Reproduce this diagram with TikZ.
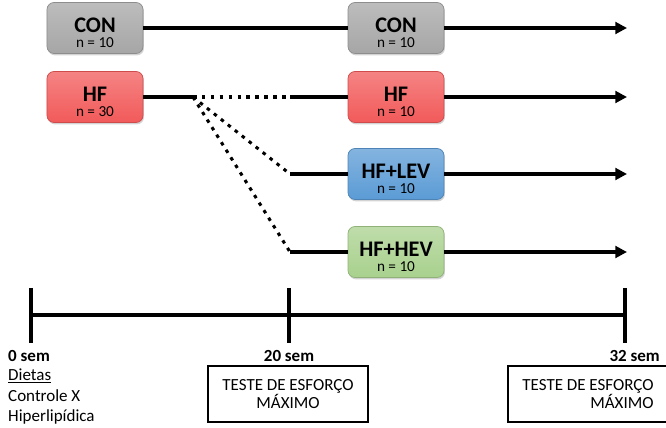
\documentclass[tikz,border=0pt]{standalone}
\usepackage{fontspec}
\setmainfont{Carlito}
\usepackage{tikz}
\usetikzlibrary{arrows.meta,shadows}

\definecolor{conGray}{HTML}{A6A6A6}
\definecolor{hfRed}{HTML}{F25A5A}
\definecolor{levBlue}{HTML}{5B9BD5}
\definecolor{hevGreen}{HTML}{A9D18E}

\tikzset{
  group/.style={rounded corners=6pt, minimum width=2.88cm, minimum height=1.53cm,
    align=center, inner sep=0pt, draw=#1!85!black, line width=0.6pt,
    top color=#1!75!white, bottom color=#1,
    drop shadow={opacity=0.35, shadow xshift=0.8pt, shadow yshift=-1.6pt}},
  flow/.style={line width=2.6pt, -{Triangle[length=10pt,width=10pt]}},
  solid line/.style={line width=2.6pt},
  dot line/.style={line width=2.6pt, dash pattern=on 3pt off 4.6pt},
  tick/.style={line width=4pt},
  testbox/.style={draw, line width=2pt, minimum width=4.8cm, minimum height=1.68cm,
    inner sep=0pt, font=\fontsize{14.5}{15.5}\selectfont},
  week/.style={font=\fontsize{14.5}{16}\selectfont\bfseries, inner sep=0pt}
}
\newcommand{\grp}[2]{{\fontsize{19}{19}\selectfont\bfseries\rule{0pt}{20pt}#1}\\[1pt]{\fontsize{13}{13}\selectfont n = #2}}

\begin{document}
\begin{tikzpicture}[x=0.03cm, y=-0.03cm]
  \useasboundingbox (0,0) rectangle (666,428);

  % Groups at 0 sem
  \node[group=conGray] (con0) at (95,28) {\grp{CON}{10}};
  \node[group=hfRed] (hf0) at (95,97) {\grp{HF}{30}};

  % Groups at 20 sem
  \node[group=conGray] (con20) at (396,28) {\grp{CON}{10}};
  \node[group=hfRed] (hf20) at (396,97) {\grp{HF}{10}};
  \node[group=levBlue] (lev20) at (396,174) {\grp{HF+LEV}{10}};
  \node[group=hevGreen] (hev20) at (396,252) {\grp{HF+HEV}{10}};

  % Split points and ends
  \coordinate (split) at (193,97);
  \coordinate (hfIn) at (290,97);
  \coordinate (levIn) at (290,174);
  \coordinate (hevIn) at (290,252);
  \coordinate (conEnd) at (627,28);
  \coordinate (hfEnd) at (627,97);
  \coordinate (levEnd) at (627,174);
  \coordinate (hevEnd) at (627,252);

  % Connectors
  \draw[solid line] (con0) -- (con20);
  \draw[flow] (con20) -- (conEnd);
  \draw[solid line] (hf0) -- (split);
  \draw[dot line] (split) -- (hfIn);
  \draw[dot line] (split) -- (levIn);
  \draw[dot line] (split) -- (hevIn);
  \draw[solid line] (hfIn) -- (hf20);
  \draw[solid line] (levIn) -- (lev20);
  \draw[solid line] (hevIn) -- (hev20);
  \draw[flow] (hf20) -- (hfEnd);
  \draw[flow] (lev20) -- (levEnd);
  \draw[flow] (hev20) -- (hevEnd);

  % Timeline
  \coordinate (t0) at (31,315);
  \coordinate (t20) at (289,315);
  \coordinate (t32) at (625,315);
  \draw[solid line] (t0) -- (t32);
  \draw[tick] (31,288) -- (31,343);
  \draw[tick] (289,288) -- (289,343);
  \draw[tick] (625,288) -- (625,343);

  % Labels
  \node[week, anchor=base west] (w0) at (8,362) {0 sem};
  \node[anchor=north west, inner sep=0pt, align=left, font=\fontsize{14.5}{17.5}\selectfont]
    (diet) at (8,369) {\underline{Dietas}\\Controle X\\Hiperlipídica};
  \node[week, anchor=base] (w20) at (289,362) {20 sem};
  \node[week, anchor=base east] (w32) at (660,362) {32 sem};

  % Tests
  \node[testbox, align=center] (test20) at (288,394) {TESTE DE ESFORÇO\\MÁXIMO};
  \node[testbox, align=right] (test32) at (588,394) {TESTE DE ESFORÇO\\MÁXIMO};
\end{tikzpicture}
\end{document}
